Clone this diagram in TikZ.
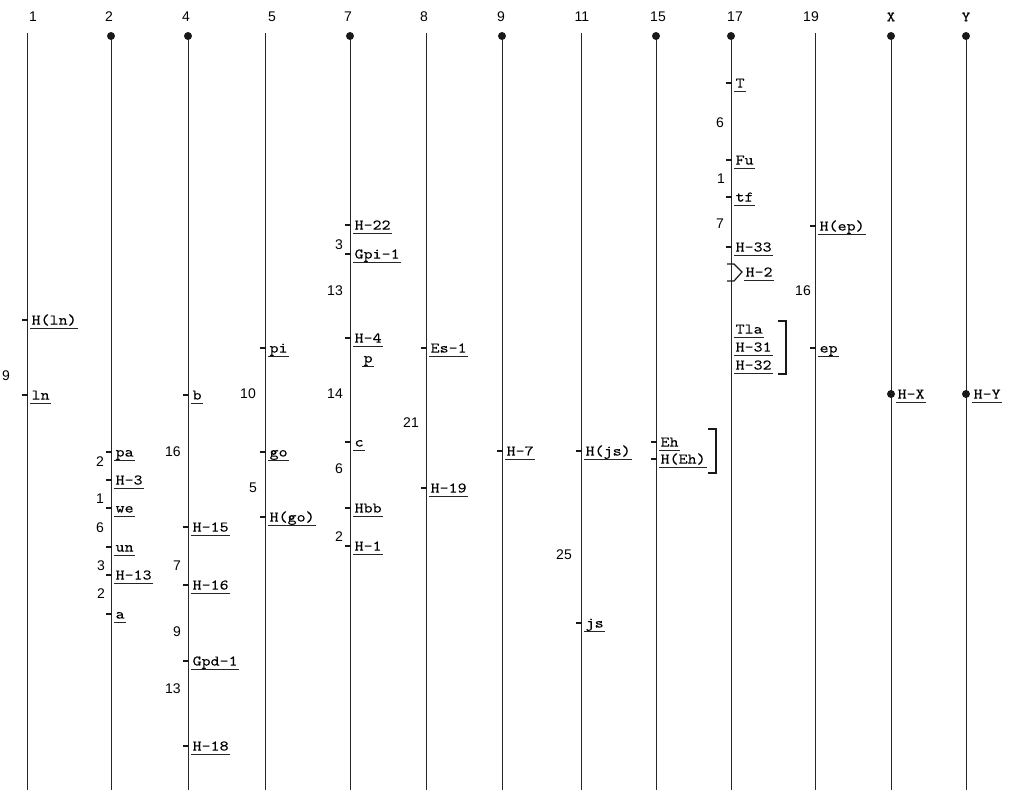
\documentclass[tikz,border=0pt]{standalone}
\usepackage{fontspec}
\setmainfont{Liberation Sans}
\newfontfamily\locfont{lmmono10-regular}[Extension=.otf, FakeStretch=1.17, FakeBold=0.25]
\usepackage{tikz}

\tikzset{
  chrom/.style={line width=0.7pt, draw=black!85},
  tick/.style={line width=1.1pt, draw=black!90},
  brack/.style={line width=0.9pt, draw=black!90},
  centro/.style={fill=black!90},
  chrname/.style={font=\fontsize{10.5}{12}\selectfont, inner sep=0.75pt},
  dist/.style={font=\fontsize{10.5}{12}\selectfont, inner sep=0.75pt},
  loclabel/.style={font=\locfont\fontsize{11}{13}\selectfont, anchor=west, inner xsep=1pt, inner ysep=0pt, text height=9.4pt, text depth=2.6pt},
}
% tick on the chromosome, underlined locus name: name, x of chromosome, y, text
\newcommand{\locus}[4]{%
  \draw [tick] ({#2-5},#3) -- ({#2+1},#3) ;
  \node [loclabel] (#1) at ({#2+3},#3) {#4};
  \draw [chrom] (#1.south west) -- (#1.south east) ;
}
% underlined locus name without tick
\newcommand{\loclab}[4]{%
  \node [loclabel] (#1) at (#2,#3) {#4};
  \draw [chrom] (#1.south west) -- (#1.south east) ;
}

\begin{document}
\begin{tikzpicture}[x=0.75pt,y=0.75pt,yscale=-1,xscale=1]
    \path (0,0) rectangle (1010,800); %picture frame

    %Straight Lines: chromosomes
    \draw [chrom] (27,33) -- (27,790) ;
    \draw [chrom] (111,36) -- (111,790) ;
    \draw [chrom] (188,36) -- (188,790) ;
    \draw [chrom] (265,33) -- (265,790) ;
    \draw [chrom] (350,36) -- (350,790) ;
    \draw [chrom] (426,33) -- (426,790) ;
    \draw [chrom] (502,36) -- (502,790) ;
    \draw [chrom] (581,33) -- (581,790) ;
    \draw [chrom] (656,36) -- (656,790) ;
    \draw [chrom] (731,36) -- (731,790) ;
    \draw [chrom] (815,33) -- (815,790) ;
    \draw [chrom] (891,36) -- (891,790) ;
    \draw [chrom] (966,36) -- (966,790) ;
    %Shape: Circles (centromeres)
    \fill [centro] (111,36) circle (4) ;
    \fill [centro] (188,36) circle (4) ;
    \fill [centro] (350,36) circle (4) ;
    \fill [centro] (502,36) circle (4) ;
    \fill [centro] (656,36) circle (4) ;
    \fill [centro] (731,36) circle (4) ;
    \fill [centro] (891,36) circle (4) ;
    \fill [centro] (966,36) circle (4) ;

    % Text Node: chromosome numbers
    \node [chrname] (c1) at (33,17) {1};
    \node [chrname] (c2) at (109,17) {2};
    \node [chrname] (c4) at (186,17) {4};
    \node [chrname] (c5) at (272,17) {5};
    \node [chrname] (c7) at (348,17) {7};
    \node [chrname] (c8) at (424,17) {8};
    \node [chrname] (c9) at (501,17) {9};
    \node [chrname] (c11) at (582,17) {11};
    \node [chrname] (c15) at (658,17) {15};
    \node [chrname] (c17) at (735,17) {17};
    \node [chrname] (c19) at (811,17) {19};
    \node [chrname, font=\locfont\fontsize{10.5}{12}\selectfont] (cX) at (891,17) {X};
    \node [chrname, font=\locfont\fontsize{10.5}{12}\selectfont] (cY) at (966,17) {Y};

    % Loci: chromosome 1
    \locus{hln}{27}{320}{H(ln)}
    \locus{ln}{27}{395}{ln}
    % chromosome 2
    \locus{pa}{111}{452}{pa}
    \locus{h3}{111}{480}{H-3}
    \locus{we}{111}{508}{we}
    \locus{un}{111}{547}{un}
    \locus{h13}{111}{575}{H-13}
    \locus{a}{111}{614}{a}
    % chromosome 4
    \locus{b}{188}{395}{b}
    \locus{h15}{188}{527}{H-15}
    \locus{h16}{188}{585}{H-16}
    \locus{gpd}{188}{661}{Gpd-1}
    \locus{h18}{188}{746}{H-18}
    % chromosome 5
    \locus{pi}{265}{348}{pi}
    \locus{go}{265}{452}{go}
    \locus{hgo}{265}{517}{H(go)}
    % chromosome 7
    \locus{h22}{350}{225}{H-22}
    \locus{gpi}{350}{254}{Gpi-1}
    \locus{h4}{350}{338}{H-4}
    \loclab{p}{362}{358}{p}
    \locus{c}{350}{442}{c}
    \locus{hbb}{350}{508}{Hbb}
    \locus{h1}{350}{546}{H-1}
    % chromosome 8
    \locus{es}{426}{348}{Es-1}
    \locus{h19}{426}{488}{H-19}
    % chromosome 9
    \locus{h7}{502}{451}{H-7}
    % chromosome 11
    \locus{hjs}{581}{451}{H(js)}
    \locus{js}{581}{623}{js}
    % chromosome 15
    \locus{eh}{656}{442}{Eh}
    \locus{heh}{656}{459}{H(Eh)}
    \draw [brack] (708,429) -- (716,429) -- (716,473) -- (708,473) ;
    % chromosome 17
    \locus{t}{731}{83}{T}
    \locus{fu}{731}{160}{Fu}
    \locus{tf}{731}{197}{tf}
    \locus{h33}{731}{247}{H-33}
    \draw [brack] (727,264) -- (734,264) -- (742,272) -- (734,281) -- (727,281) ;
    \loclab{h2}{744}{272}{H-2}
    \loclab{tla}{734}{329}{Tla}
    \loclab{h31}{734}{347}{H-31}
    \loclab{h32}{734}{365}{H-32}
    \draw [brack] (778,321) -- (786,321) -- (786,374) -- (778,374) ;
    % chromosome 19
    \locus{hep}{815}{226}{H(ep)}
    \locus{ep}{815}{348}{ep}
    % X and Y
    \fill [centro] (891,394) circle (4) ;
    \loclab{hx}{896}{394}{H-X}
    \fill [centro] (966,394) circle (4) ;
    \loclab{hy}{972}{394}{H-Y}

    % Text Node: map distances
    \node [dist] (d1a) at (6,376) {9};
    \node [dist] (d2a) at (100,462) {2};
    \node [dist] (d2b) at (100,499) {1};
    \node [dist] (d2c) at (100,528) {6};
    \node [dist] (d2d) at (101,566) {3};
    \node [dist] (d2e) at (101,594) {2};
    \node [dist] (d4a) at (173,452) {16};
    \node [dist] (d4b) at (177,566) {7};
    \node [dist] (d4c) at (177,632) {9};
    \node [dist] (d4d) at (173,689) {13};
    \node [dist] (d5a) at (248,394) {10};
    \node [dist] (d5b) at (253,488) {5};
    \node [dist] (d7a) at (339,245) {3};
    \node [dist] (d7b) at (335,291) {13};
    \node [dist] (d7c) at (335,394) {14};
    \node [dist] (d7d) at (339,469) {6};
    \node [dist] (d7e) at (339,537) {2};
    \node [dist] (d8a) at (411,423) {21};
    \node [dist] (d11a) at (564,555) {25};
    \node [dist] (d17a) at (720,123) {6};
    \node [dist] (d17b) at (721,179) {1};
    \node [dist] (d17c) at (720,224) {7};
    \node [dist] (d19a) at (803,291) {16};

\end{tikzpicture}
\end{document}
